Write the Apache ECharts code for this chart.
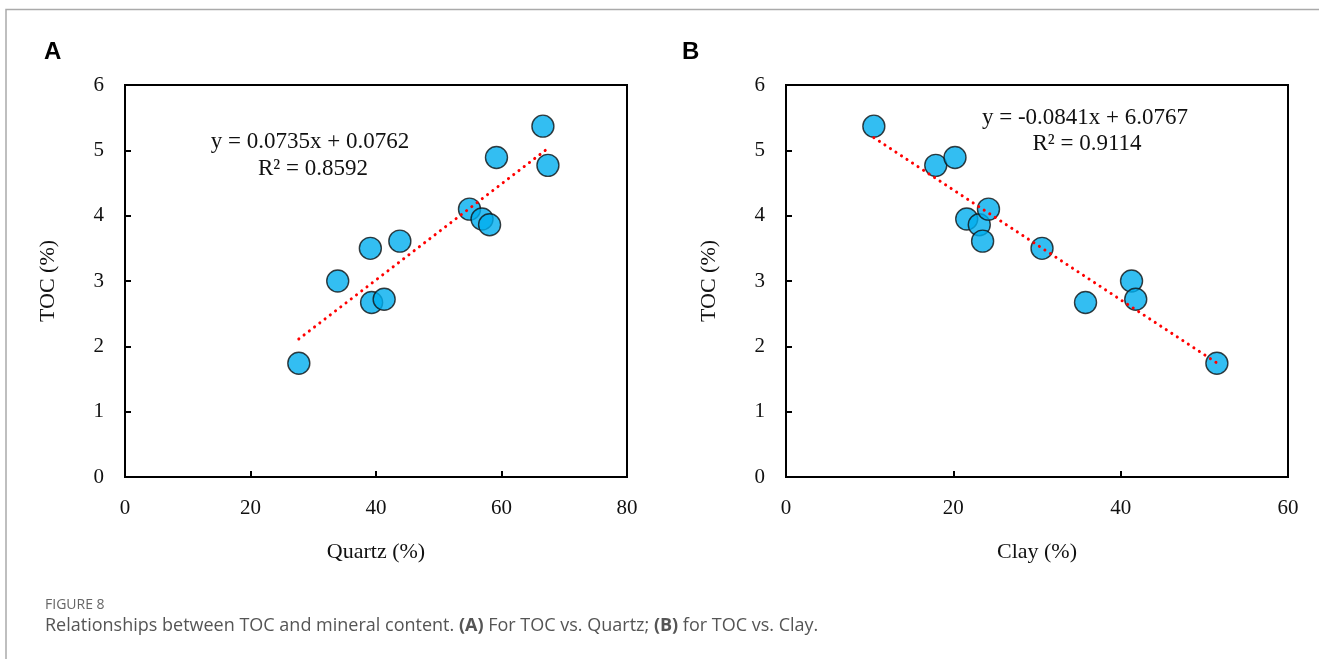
<!DOCTYPE html>
<html>
<head>
<meta charset="utf-8">
<script src="https://cdn.jsdelivr.net/npm/echarts@6/dist/echarts.min.js"></script>
<style>
  html, body { margin: 0; padding: 0; background: #fff; }
  #chart { width: 1319px; height: 659px; }
</style>
</head>
<body>
<div id="chart"></div>
<script>
// panel A: TOC vs Quartz
const quartz = [27.7, 33.9, 39.1, 39.3, 41.3, 43.8, 54.9, 56.9, 58.1, 59.2, 66.6, 67.4]
const tocA = [1.74, 3.0, 3.5, 2.67, 2.72, 3.61, 4.1, 3.95, 3.86, 4.89, 5.37, 4.77]
// panel B: TOC vs Clay
const clay = [10.5, 17.9, 20.2, 21.6, 23.1, 23.5, 24.2, 30.6, 35.8, 41.3, 41.8, 51.5]
const tocB = [5.37, 4.77, 4.89, 3.95, 3.86, 3.61, 4.1, 3.5, 2.67, 3.0, 2.72, 1.74]
// fitted lines from the figure
const fitA = { slope: 0.0735, intercept: 0.0762 }
const fitB = { slope: -0.0841, intercept: 6.0767 }

const chart = echarts.init(document.getElementById('chart'))

const serif = 'Liberation Serif, Times New Roman, serif'

function trend(xs, fit) {
  const lo = Math.min(...xs), hi = Math.max(...xs)
  return [[lo, fit.intercept + fit.slope * lo], [hi, fit.intercept + fit.slope * hi]]
}

function xAx(idx, max, name) {
  return {
    type: 'value', gridIndex: idx, min: 0, max: max, interval: 20,
    name: name, nameLocation: 'middle', nameGap: 64,
    nameTextStyle: { fontFamily: serif, fontSize: 22, color: '#111' },
    axisLine: { show: true, lineStyle: { color: '#000', width: 2 } },
    axisTick: { show: true, inside: true, length: 6, lineStyle: { color: '#000', width: 2 } },
    axisLabel: { fontFamily: serif, fontSize: 21, color: '#111', margin: 21 },
    splitLine: { show: false }
  }
}

function yAx(idx) {
  return {
    type: 'value', gridIndex: idx, min: 0, max: 6, interval: 1,
    name: 'TOC (%)', nameLocation: 'middle', nameGap: 66,
    nameTextStyle: { fontFamily: serif, fontSize: 22, color: '#111' },
    axisLine: { show: true, lineStyle: { color: '#000', width: 2 } },
    axisTick: { show: true, inside: true, length: 6, lineStyle: { color: '#000', width: 2 } },
    axisLabel: { fontFamily: serif, fontSize: 21, color: '#111', margin: 21 },
    splitLine: { show: false }
  }
}

const dotStyle = {
  color: '#00AEEF',
  borderColor: '#111',
  borderWidth: 1.4
}

const lineStyle = { color: '#ff0000', width: 3, type: [0.1, 6.5], cap: 'round' }

const option = {
  animation: false,
  grid: [
    { left: 125, right: 692, top: 85, bottom: 182, show: true, borderColor: '#000', borderWidth: 2 },
    { left: 786, right: 31, top: 85, bottom: 182, show: true, borderColor: '#000', borderWidth: 2 }
  ],
  xAxis: [xAx(0, 80, 'Quartz (%)'), xAx(1, 60, 'Clay (%)')],
  yAxis: [yAx(0), yAx(1)],
  series: [
    {
      type: 'line', xAxisIndex: 0, yAxisIndex: 0, data: trend(quartz, fitA),
      showSymbol: false, lineStyle: lineStyle, z: 3
    },
    {
      type: 'scatter', xAxisIndex: 0, yAxisIndex: 0,
      data: quartz.map((x, i) => [x, tocA[i]]),
      symbolSize: 22, itemStyle: dotStyle, z: 2
    },
    {
      type: 'line', xAxisIndex: 1, yAxisIndex: 1, data: trend(clay, fitB),
      showSymbol: false, lineStyle: lineStyle, z: 3
    },
    {
      type: 'scatter', xAxisIndex: 1, yAxisIndex: 1,
      data: clay.map((x, i) => [x, tocB[i]]),
      symbolSize: 22, itemStyle: dotStyle, z: 2
    }
  ],
  graphic: [
    // outer frame
    { type: 'polyline', shape: { points: [[6, 659], [6, 9.5], [1319, 9.5]] },
      style: { stroke: '#aaa', lineWidth: 1.5, fill: null } },
    { type: 'text', left: 44, top: 40,
      style: { text: 'A', font: 'bold 24px Liberation Sans, Arial, sans-serif', fill: '#000' } },
    { type: 'text', left: 682, top: 40,
      style: { text: 'B', font: 'bold 24px Liberation Sans, Arial, sans-serif', fill: '#000' } },
    { type: 'text', x: 310, y: 142,
      style: { text: 'y = 0.0735x + 0.0762', font: '23px ' + serif, fill: '#111', align: 'center', verticalAlign: 'middle' } },
    { type: 'text', x: 313, y: 169,
      style: { text: 'R² = 0.8592', font: '23px ' + serif, fill: '#111', align: 'center', verticalAlign: 'middle' } },
    { type: 'text', x: 1085, y: 118,
      style: { text: 'y = -0.0841x + 6.0767', font: '23px ' + serif, fill: '#111', align: 'center', verticalAlign: 'middle' } },
    { type: 'text', x: 1087, y: 144,
      style: { text: 'R² = 0.9114', font: '23px ' + serif, fill: '#111', align: 'center', verticalAlign: 'middle' } },
    { type: 'text', left: 45, top: 598,
      style: { text: 'FIGURE 8', font: '14px Open Sans, sans-serif', fill: '#666' } },
    { type: 'text', left: 45, top: 617,
      style: {
        text: 'Relationships between TOC and mineral content. {b|(A)} For TOC vs. Quartz; {b|(B)} for TOC vs. Clay.',
        font: '18px Open Sans, sans-serif', fill: '#555',
        rich: { b: { fontWeight: 'bold', fontSize: 18, fontFamily: 'Open Sans, sans-serif', fill: '#555' } }
      } }
  ]
}

chart.setOption(option)
</script>
</body>
</html>
